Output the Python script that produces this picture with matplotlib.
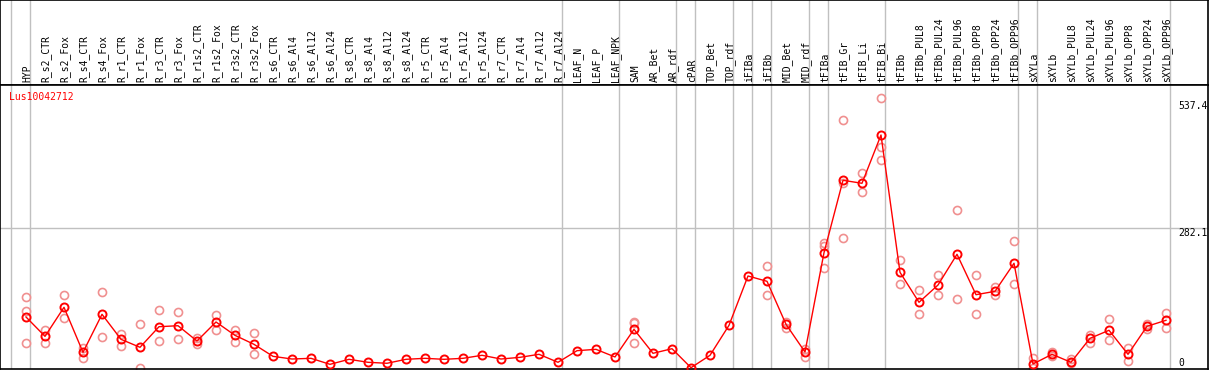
import numpy as np
import matplotlib
matplotlib.use('Agg')
import matplotlib.pyplot as plt
import matplotlib.transforms as mtrans

# sample names (header, left to right)
labels = [
  'HYP', 'R_s2_CTR', 'R_s2_Fox', 'R_s4_CTR', 'R_s4_Fox', 'R_r1_CTR', 'R_r1_Fox',
  'R_r3_CTR', 'R_r3_Fox', 'R_r1s2_CTR', 'R_r1s2_Fox', 'R_r3s2_CTR', 'R_r3s2_Fox',
  'R_s6_CTR', 'R_s6_Al4', 'R_s6_Al12', 'R_s6_Al24', 'R_s8_CTR', 'R_s8_Al4',
  'R_s8_Al12', 'R_s8_Al24', 'R_r5_CTR', 'R_r5_Al4', 'R_r5_Al12', 'R_r5_Al24',
  'R_r7_CTR', 'R_r7_Al4', 'R_r7_Al12', 'R_r7_Al24', 'LEAF_N', 'LEAF_P', 'LEAF_NPK',
  'SAM', 'AR_Bet', 'AR_rdf', 'cPAR', 'TOP_Bet', 'TOP_rdf', 'iFIBa', 'iFIBb',
  'MID_Bet', 'MID_rdf', 'tFIBa', 'tFIB_Gr', 'tFIB_Li', 'tFIB_Bi', 'tFIBb',
  'tFIBb_PUL8', 'tFIBb_PUL24', 'tFIBb_PUL96', 'tFIBb_OPP8', 'tFIBb_OPP24',
  'tFIBb_OPP96', 'sXYLa', 'sXYLb', 'sXYLb_PUL8', 'sXYLb_PUL24', 'sXYLb_PUL96',
  'sXYLb_OPP8', 'sXYLb_OPP24', 'sXYLb_OPP96',
]

# mean expression per sample
means = [
  102.8, 63.8, 122.3, 31.6, 108.2, 57.8, 41.7, 83.2, 85.2, 54.4, 92.7, 65.8, 47.7,
  23.5, 18.1, 19.5, 7.4, 17.5, 11.5, 9.5, 17.5, 19.5, 17.5, 19.5, 25.6, 18.1, 21.5,
  27.6, 11.5, 34.9, 37.6, 22.2, 77.9, 29.6, 38.9, 0.6, 25.6, 86.0, 185.4, 174.7,
  88.0, 32.2, 232.3, 378.2, 372.2, 469.5, 192.8, 132.4, 167.2, 229.1, 147.7, 154.5,
  211.0, 8.1, 27.6, 11.5, 59.8, 76.0, 27.6, 84.0, 96.1,
]

# individual replicates (empty where they sit on the mean)
replicates = [
  [142.4, 114.2, 50.4], [76.6, 51.0], [146.5, 100.1], [39.6, 20.8], [152.5, 61.8],
  [68.5, 45.0], [88.0, -1.0], [116.2, 54.4], [112.2, 57.8], [59.8, 47.7],
  [106.2, 76.0], [76.6, 53.0], [69.9, 27.6],
  [], [], [], [], [], [], [], [], [], [], [], [], [], [], [], [], [], [], [],
  [91.8, 90.5, 50.4], [], [], [], [], [], [], [205.5, 147.1], [92.7, 80.0],
  [38.9, 22.2], [251.2, 246.4, 200.9], [499.0, 372.2, 261.3], [392.3, 354.0],
  [543.4, 444.7, 419.1], [217.6, 168.6], [156.6, 108.2], [186.8, 146.5],
  [318.4, 138.4], [186.8, 108.8], [163.2, 147.1], [256.0, 168.6], [19.5, 0.0],
  [32.9, 24.2], [18.1, 9.5], [66.5, 49.7], [98.1, 55.8], [40.9, 14.1],
  [89.3, 78.0], [110.2, 81.2],
]

# group boundaries: line drawn just after these sample indices
group_ends = [-1, 0, 28, 31, 34, 35, 37, 38, 39, 41, 42, 45, 52, 53, 60]

gene = 'Lus10042712'
ytick_vals = [537.4, 282.1, 0]

W, H = 1209, 370
fig = plt.figure(figsize=(W / 100, H / 100), dpi=100)
font = dict(family='DejaVu Sans Mono', size=7)

# pixel layout
col0, colw = 26, 19
right_px = 1208
head_px = 85
xlim = (-col0 / colw, (right_px - col0) / colw)
scale = 282.1 / 140.0
ylim = (-1 * scale, (368 - head_px) * scale)

ax_h = fig.add_axes([0, (H - head_px) / H, right_px / W, head_px / H])
ax = fig.add_axes([0, 1 / H, right_px / W, (H - head_px - 1) / H])

grey = '#c0c0c0'
for a in (ax, ax_h):
  a.set_xlim(*xlim)
  a.set_xticks([])
  a.set_yticks([])
  for s in a.spines.values():
    s.set_color('black')
    s.set_linewidth(1.2)
  for k in group_ends:
    a.axvline(k + 4 / colw, color=grey, lw=1, zorder=0)
ax.set_ylim(*ylim)
ax_h.set_ylim(0, 1)

# header labels
tr_h = mtrans.blended_transform_factory(ax_h.transData, ax_h.transAxes)
for i, lab in enumerate(labels):
  ax_h.text(i + 0.05, 0.03, lab, rotation=90, ha='center', va='bottom',
            transform=tr_h, **font)

ax.axhline(282.1, color=grey, lw=1, zorder=0)

x = np.arange(len(labels))
for i, reps in enumerate(replicates):
  if reps:
    ax.plot([i] * len(reps), reps, 'o', ms=5.8, mfc='none', mec='#f09090',
            mew=1.2, zorder=2)
ax.plot(x, means, '-', color='red', lw=1, zorder=3)
ax.plot(x, means, 'o', ms=5.8, mfc='none', mec='red', mew=1.4, zorder=4)

tr = mtrans.blended_transform_factory(ax.transAxes, ax.transData)
for v in ytick_vals:
  ax.text(1178 / right_px, v, f'{v:g}', ha='left',
          va='bottom' if v == 0 else 'top', transform=tr, **font)

ax.text(9 / right_px, 0.975, gene, color='red', ha='left', va='top',
        transform=ax.transAxes, **font)

fig.savefig('out.png', dpi=100)
